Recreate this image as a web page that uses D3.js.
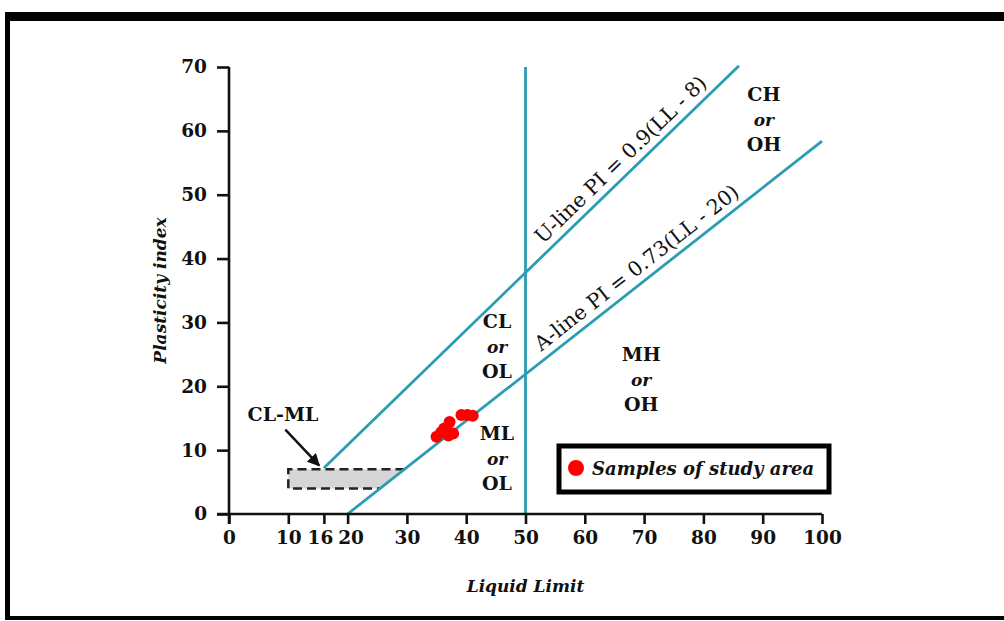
<!DOCTYPE html>
<html><head><meta charset="utf-8">
<script src="https://cdn.jsdelivr.net/npm/d3@7"></script>
<style>
html,body{margin:0;padding:0;background:#fff;}
svg{display:block;}
</style></head>
<body>
<svg id="chart" width="1004" height="621"></svg>
<script>
// ---- data ----
const xTicks = [0, 10, 16, 20, 30, 40, 50, 60, 70, 80, 90, 100];
const yTicks = [0, 10, 20, 30, 40, 50, 60, 70];
const sampleLL = [35.0, 35.8, 36.3, 36.8, 37.2, 37.0, 37.8, 39.2, 40.2, 41.1];
const samplePI = [12.1, 12.8, 13.4, 13.0, 14.4, 12.3, 12.6, 15.5, 15.5, 15.4];
const uLine = { name: "U-line PI = 0.9(LL - 8)", coef: 0.9, shift: 8, llStart: 16, llEnd: 86 };
const aLine = { name: "A-line PI = 0.73(LL - 20)", coef: 0.73, shift: 20, llStart: 20, llEnd: 100 };
const llDivide = 50;
const clml = { label: "CL-ML", llMin: 10, piMin: 4, piMax: 7 };
const zoneNames = [
  { lines: ["CH", "or", "OH"], ll: 90.2, pi: 64.6 },
  { lines: ["CL", "or", "OL"], ll: 45.2, pi: 29.1 },
  { lines: ["MH", "or", "OH"], ll: 69.5, pi: 24.0 },
  { lines: ["ML", "or", "OL"], ll: 45.2, pi: 11.6 }
];
const legendLabel = "Samples of study area";
const xTitle = "Liquid Limit";
const yTitle = "Plasticity index";

// ---- setup ----
const svg = d3.select("#chart");
const teal = "#2a9db3";
const serif = "'DejaVu Serif', 'Liberation Serif', serif";
const x = d3.scaleLinear().domain([0, 100]).range([229, 822]);
const y = d3.scaleLinear().domain([0, 70]).range([514, 67]);

// frame
svg.append("rect").attr("x", 5).attr("y", 12).attr("width", 1010).attr("height", 9).attr("fill", "#000");
svg.append("rect").attr("x", 5).attr("y", 12).attr("width", 5).attr("height", 608).attr("fill", "#000");
svg.append("rect").attr("x", 5).attr("y", 616).attr("width", 1010).attr("height", 4).attr("fill", "#000");

// CL-ML zone (bounded on the right by the A-line)
const aLL = pi => pi / aLine.coef + aLine.shift;
const zonePoly = [[clml.llMin, clml.piMin], [clml.llMin, clml.piMax], [aLL(clml.piMax), clml.piMax], [aLL(clml.piMin), clml.piMin]];
svg.append("path")
  .attr("d", d3.line().x(d => x(d[0])).y(d => y(d[1]))(zonePoly) + "Z")
  .attr("fill", "#d6d6d6");
svg.append("path")
  .attr("d", d3.line().x(d => x(d[0])).y(d => y(d[1]))([[aLL(clml.piMax), clml.piMax], [clml.llMin, clml.piMax], [clml.llMin, clml.piMin], [aLL(clml.piMin), clml.piMin]]))
  .attr("fill", "none").attr("stroke", "#222").attr("stroke-width", 2.5).attr("stroke-dasharray", "9,5");

// lines
const lineGen = d3.line().x(d => x(d[0])).y(d => y(d[1]));
[uLine, aLine].forEach(L => {
  const pts = [[L.llStart, L.coef * (L.llStart - L.shift)], [L.llEnd, L.coef * (L.llEnd - L.shift)]];
  svg.append("path").attr("d", lineGen(pts)).attr("fill", "none").attr("stroke", teal).attr("stroke-width", 2.8);
});
svg.append("path").attr("d", lineGen([[llDivide, 0], [llDivide, 70]]))
  .attr("fill", "none").attr("stroke", teal).attr("stroke-width", 2.8);

// line labels
function lineLabel(L, llMid, off) {
  const p0 = [x(L.llStart), y(L.coef * (L.llStart - L.shift))];
  const p1 = [x(L.llEnd), y(L.coef * (L.llEnd - L.shift))];
  const ang = Math.atan2(p1[1] - p0[1], p1[0] - p0[0]) * 180 / Math.PI;
  const px = x(llMid), py = y(L.coef * (llMid - L.shift));
  svg.append("text")
    .attr("transform", `translate(${px},${py}) rotate(${ang})`)
    .attr("y", -off)
    .attr("text-anchor", "middle")
    .attr("font-family", serif).attr("font-size", 20.5).attr("fill", "#111")
    .text(L.name);
}
lineLabel(uLine, 67.8, 8);
lineLabel(aLine, 70.3, 8);

// axes
const xAxis = svg.append("g").attr("transform", `translate(0,${y(0)})`)
  .call(d3.axisBottom(x).tickValues(xTicks).tickSize(10).tickSizeOuter(0).tickPadding(7));
const yAxis = svg.append("g").attr("transform", `translate(${x(0)},0)`)
  .call(d3.axisLeft(y).tickValues(yTicks).tickSize(12).tickSizeOuter(0).tickPadding(10));
[xAxis, yAxis].forEach(g => {
  g.selectAll("path,line").attr("stroke", "#111").attr("stroke-width", 2.6);
  g.selectAll("text").attr("font-family", serif).attr("font-weight", "bold").attr("font-size", 18.5).attr("fill", "#111");
});
// nudge the crowded 16 / 20 labels apart, as in the reference
xAxis.selectAll(".tick text").attr("dx", d => d === 16 ? -4 : d === 20 ? 3 : 0);
xAxis.selectAll("path.domain").attr("d", `M${x(0) - 12},0H${x(100)}`);
yAxis.selectAll("path.domain").attr("d", `M0,${y(70)}V${y(0) + 10}`);

// axis titles
svg.append("text").attr("x", x(50)).attr("y", 592).attr("text-anchor", "middle")
  .attr("font-family", serif).attr("font-weight", "bold").attr("font-style", "italic").attr("font-size", 17)
  .attr("fill", "#111").text(xTitle);
svg.append("text").attr("transform", `translate(166,${y(35)}) rotate(-90)`).attr("text-anchor", "middle")
  .attr("font-family", serif).attr("font-weight", "bold").attr("font-style", "italic").attr("font-size", 17)
  .attr("fill", "#111").text(yTitle);

// zone labels
zoneNames.forEach(z => {
  z.lines.forEach((t, i) => {
    svg.append("text").attr("x", x(z.ll)).attr("y", y(z.pi) + i * 25)
      .attr("text-anchor", "middle").attr("font-family", serif).attr("font-weight", "bold")
      .attr("font-style", t === "or" ? "italic" : "normal")
      .attr("font-size", t === "or" ? 17 : 19).attr("fill", "#111").text(t);
  });
});

// CL-ML label and arrow
svg.append("defs").append("marker").attr("id", "arr").attr("viewBox", "0 0 10 10")
  .attr("refX", 9).attr("refY", 5).attr("markerWidth", 5).attr("markerHeight", 5).attr("orient", "auto")
  .append("path").attr("d", "M0,0L10,5L0,10z").attr("fill", "#111");
svg.append("text").attr("x", x(9.1)).attr("y", y(14.5)).attr("text-anchor", "middle")
  .attr("font-family", serif).attr("font-weight", "bold").attr("font-size", 19).attr("fill", "#111").text(clml.label);
svg.append("path").attr("d", lineGen([[9.5, 13.2], [15.2, 7.6]]))
  .attr("stroke", "#111").attr("stroke-width", 2.5).attr("fill", "none").attr("marker-end", "url(#arr)");

// samples
svg.append("g").selectAll("circle").data(sampleLL.map((v, i) => [v, samplePI[i]])).join("circle")
  .attr("cx", d => x(d[0])).attr("cy", d => y(d[1])).attr("r", 6).attr("fill", "#ff0000");

// legend
const lg = svg.append("g");
lg.append("rect").attr("x", 559).attr("y", 446).attr("width", 270).attr("height", 46)
  .attr("fill", "#fff").attr("stroke", "#000").attr("stroke-width", 5);
lg.append("circle").attr("cx", 576).attr("cy", 468).attr("r", 8).attr("fill", "#ff0000");
lg.append("text").attr("x", 592).attr("y", 475).attr("font-family", serif).attr("font-weight", "bold")
  .attr("font-style", "italic").attr("font-size", 18).attr("fill", "#111").text(legendLabel);
</script>
</body></html>
